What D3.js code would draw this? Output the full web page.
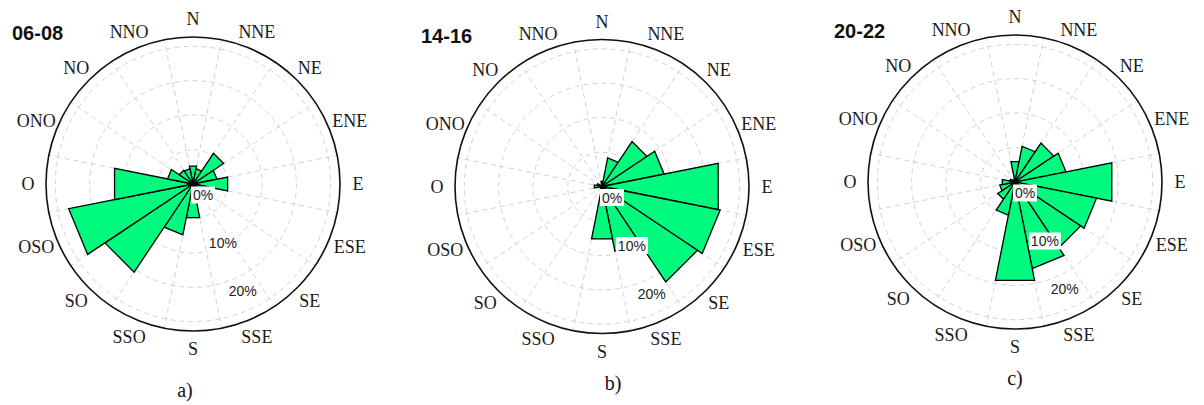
<!DOCTYPE html>
<html>
<head>
<meta charset="utf-8">
<script src="https://cdnjs.cloudflare.com/ajax/libs/d3/7.8.5/d3.min.js"></script>
<style>
  body { margin: 0; background: #fff; }
</style>
</head>
<body>
<div id="chart"></div>
<script>
// compass sectors (Spanish: O = oeste)
var directions = ['N', 'NNE', 'NE', 'ENE', 'E', 'ESE', 'SE', 'SSE',
                  'S', 'SSO', 'SO', 'OSO', 'O', 'ONO', 'NO', 'NNO'];

// frequency (%) per sector
var freq0608 = [3.5, 3.0, 7.1, 4.7, 6.8, 3.0, 2.5, 3.0, 6.6, 10.0, 20.4, 24.4, 15.4, 5.0, 3.2, 3.0];
var freq1416 = [1.0, 5.6, 10.4, 12.2, 22.8, 23.2, 22.1, 12.7, 10.3, 0.5, 0.3, 0.3, 1.5, 1.0, 0.3, 0.3];
var freq2022 = [4.0, 7.0, 9.0, 10.0, 19.0, 16.0, 15.2, 17.0, 19.3, 6.5, 4.0, 3.0, 2.5, 1.0, 0.5, 0.5];

var periods = ['06-08', '14-16', '20-22'];
var captions = ['a)', 'b)', 'c)'];

var ringTicks = [6.6, 13.3, 19.9, 26.5];
var pctTicks = [0, 10, 20];
var maxPct = 28.3;

var width = 1204,
    height = 405,
    radius = 147;

var panels = [
    { cx: 193, cy: 184, capDx: -8, capDy: 206, values: freq0608 },
    { cx: 602, cy: 186.5, capDx: 11, capDy: 196, values: freq1416 },
    { cx: 1015, cy: 182, capDx: 0, capDy: 196, values: freq2022 }
];

var svg = d3.select('#chart').append('svg')
    .attr('width', width)
    .attr('height', height)
    .attr('viewBox', '0 0 ' + width + ' ' + height);

var rScale = d3.scaleLinear().domain([0, maxPct]).range([0, radius]);

// one band per sector, starting half a sector west of north
var step = 2 * Math.PI / directions.length;
var angle = d3.scaleBand()
    .domain(directions)
    .range([-step / 2, 2 * Math.PI - step / 2])
    .padding(0);

var wedge = d3.lineRadial()
    .angle(function (d) { return d[0]; })
    .radius(function (d) { return d[1]; })
    .curve(d3.curveLinearClosed);

function polar(a, r) {
    return [r * Math.sin(a), -r * Math.cos(a)];
}

panels.forEach(function (p, i) {
    var g = svg.append('g').attr('transform', 'translate(' + p.cx + ',' + p.cy + ')');

    // grid: dashed rings and spokes on sector borders
    g.selectAll('.ring').data(ringTicks).enter().append('circle')
        .attr('class', 'ring')
        .attr('r', function (d) { return rScale(d); })
        .attr('fill', 'none')
        .attr('stroke', '#d2d2d2')
        .attr('stroke-width', 1)
        .attr('stroke-dasharray', '5,4');

    g.selectAll('.spoke').data(directions).enter().append('line')
        .attr('class', 'spoke')
        .attr('x1', 0).attr('y1', 0)
        .attr('x2', function (d) { return polar(angle(d), radius)[0]; })
        .attr('y2', function (d) { return polar(angle(d), radius)[1]; })
        .attr('stroke', '#d2d2d2')
        .attr('stroke-width', 1)
        .attr('stroke-dasharray', '5,4');

    g.append('circle')
        .attr('r', radius)
        .attr('fill', 'none')
        .attr('stroke', '#111')
        .attr('stroke-width', 1.6);

    // bars
    g.selectAll('.bar').data(directions).enter().append('path')
        .attr('class', 'bar')
        .attr('d', function (d, k) {
            var a0 = angle(d), a1 = a0 + angle.bandwidth(), r = rScale(p.values[k]);
            return wedge([[a0, 0], [a0, r], [a1, r]]);
        })
        .attr('fill', '#00fa7d')
        .attr('stroke', '#000')
        .attr('stroke-width', 1.3)
        .attr('stroke-linejoin', 'miter');

    // percent labels along SSE
    var labAngle = angle('SSE') + angle.bandwidth() / 2;
    var lab = g.selectAll('.pct').data(pctTicks).enter().append('g')
        .attr('class', 'pct')
        .attr('transform', function (d) {
            var pt = polar(labAngle, rScale(d));
            return 'translate(' + (pt[0] + 10) + ',' + (pt[1] + 11) + ')';
        });
    lab.append('rect')
        .attr('x', -13).attr('y', -8.5)
        .attr('width', function (d) { return d === 0 ? 24 : 32; })
        .attr('height', 17)
        .attr('transform', function (d) { return d === 0 ? 'translate(1,0)' : 'translate(-3,0)'; })
        .attr('fill', '#fff');
    lab.append('text')
        .attr('text-anchor', 'middle')
        .attr('dy', '0.36em')
        .attr('font-family', 'Liberation Sans, Arial, sans-serif')
        .attr('font-size', 14)
        .attr('fill', '#222')
        .text(function (d) { return d + '%'; });

    // compass labels
    g.selectAll('.dir').data(directions).enter().append('text')
        .attr('class', 'dir')
        .attr('x', function (d) {
            var a = angle(d) + angle.bandwidth() / 2;
            var extra = d.length === 3 ? 5 * Math.abs(Math.sin(a)) : 0;
            return polar(a, 165 + extra)[0];
        })
        .attr('y', function (d) {
            var a = angle(d) + angle.bandwidth() / 2;
            return polar(a, 165)[1];
        })
        .attr('text-anchor', 'middle')
        .attr('dy', '0.35em')
        .attr('font-family', 'Liberation Serif, Times New Roman, serif')
        .attr('font-size', 18)
        .attr('fill', '#1a1a1a')
        .text(function (d) { return d; });

    // period title and caption
    g.append('text')
        .attr('x', -181).attr('y', -151)
        .attr('dy', '0.36em')
        .attr('font-family', 'Liberation Sans, Arial, sans-serif')
        .attr('font-weight', 'bold')
        .attr('font-size', 20)
        .attr('fill', '#111')
        .text(periods[i]);

    g.append('text')
        .attr('x', p.capDx).attr('y', p.capDy)
        .attr('text-anchor', 'middle')
        .attr('dy', '0.35em')
        .attr('font-family', 'Liberation Serif, Times New Roman, serif')
        .attr('font-size', 20)
        .attr('fill', '#111')
        .text(captions[i]);
});
</script>
</body>
</html>
